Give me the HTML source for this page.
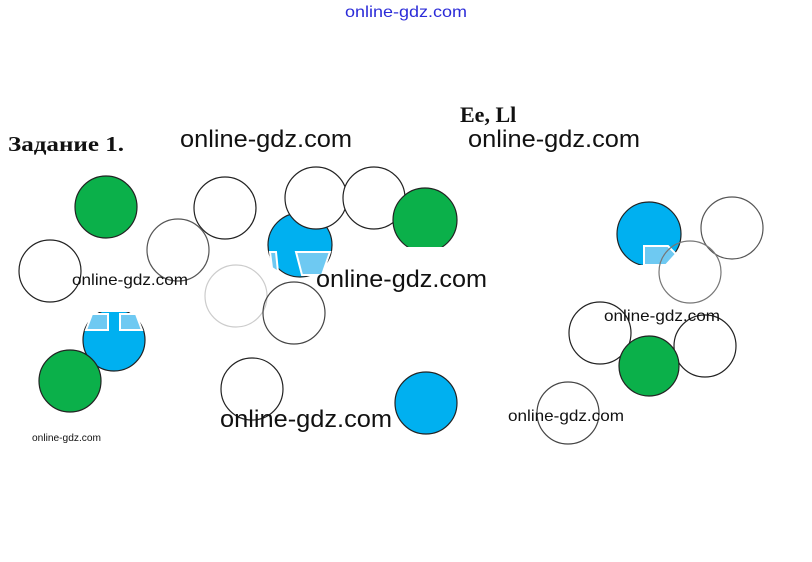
<!DOCTYPE html>
<html><head><meta charset="utf-8"><style>
html,body{margin:0;padding:0;background:#fff;}
svg{display:block}
.w{font-family:"Liberation Sans",sans-serif;fill:#111}
</style></head><body>
<svg width="812" height="562" viewBox="0 0 812 562" xmlns="http://www.w3.org/2000/svg">
<rect width="812" height="562" fill="#fff"/>
<text x="406" y="17" text-anchor="middle" font-family="Liberation Sans,sans-serif" font-size="16" fill="#2b2bd8" textLength="122" lengthAdjust="spacingAndGlyphs">online-gdz.com</text>
<text x="8" y="151" font-family="Liberation Serif,DejaVu Serif,serif" font-weight="bold" font-size="21" fill="#111" textLength="116" lengthAdjust="spacingAndGlyphs">Задание 1.</text>
<text x="460" y="122" font-family="Liberation Serif,serif" font-weight="bold" font-size="22" fill="#111">Ee, Ll</text>
<g stroke="#222" stroke-width="1.2">
<circle cx="106" cy="207" r="31" fill="#0bb04a"/>
<circle cx="225" cy="208" r="31" fill="none"/>
<circle cx="178" cy="250" r="31" fill="none" stroke="#555"/>
<circle cx="50" cy="271" r="31" fill="none"/>
<circle cx="300" cy="245" r="32" fill="#00b0f0"/>
<path d="M270 252 L276 252 L278 272 L272 268 Z" fill="#6ec9f2" stroke="#fff" stroke-width="2"/>
<path d="M296 252 L330 252 L322 275 L302 275 Z" fill="#6ec9f2" stroke="#fff" stroke-width="2"/>
<circle cx="316" cy="198" r="31" fill="#fff"/>
<circle cx="374" cy="198" r="31" fill="#fff"/>
<circle cx="425" cy="220" r="32" fill="#0bb04a"/>
<rect x="392" y="247" width="70" height="12" fill="#fff" stroke="none"/>
<circle cx="236" cy="296" r="31" fill="none" stroke="#ccc"/>
<circle cx="294" cy="313" r="31" fill="none" stroke="#444"/>
<circle cx="114" cy="340" r="31" fill="#00b0f0"/>
<rect x="80" y="300" width="70" height="12" fill="#fff" stroke="none"/>
<path d="M86 330 L108 330 L108 314 L92 314 Z M120 314 L120 330 L142 330 L136 314 Z" fill="#6ec9f2" stroke="#fff" stroke-width="2"/>
<circle cx="70" cy="381" r="31" fill="#0bb04a"/>
<circle cx="252" cy="389" r="31" fill="none"/>
<circle cx="426" cy="403" r="31" fill="#00b0f0"/>
<circle cx="649" cy="234" r="32" fill="#00b0f0"/>
<rect x="615" y="265" width="70" height="8" fill="#fff" stroke="none"/>
<path d="M644 246 L668 246 L676 254 L666 265 L644 265 Z" fill="#6ec9f2" stroke="#fff" stroke-width="2"/>
<circle cx="732" cy="228" r="31" fill="none" stroke="#555"/>
<circle cx="690" cy="272" r="31" fill="none" stroke="#777"/>
<circle cx="600" cy="333" r="31" fill="none"/>
<circle cx="705" cy="346" r="31" fill="#fff"/>
<circle cx="649" cy="366" r="30" fill="#0bb04a"/>
<circle cx="568" cy="413" r="31" fill="none" stroke="#444"/>
</g>
<text class="w" x="180" y="147" font-size="24" textLength="172" lengthAdjust="spacingAndGlyphs">online-gdz.com</text>
<text class="w" x="468" y="147" font-size="24" textLength="172" lengthAdjust="spacingAndGlyphs">online-gdz.com</text>
<text class="w" x="72" y="285" font-size="16" textLength="116" lengthAdjust="spacingAndGlyphs">online-gdz.com</text>
<text class="w" x="316" y="287" font-size="24" textLength="171" lengthAdjust="spacingAndGlyphs">online-gdz.com</text>
<text class="w" x="604" y="321" font-size="16" textLength="116" lengthAdjust="spacingAndGlyphs">online-gdz.com</text>
<text class="w" x="220" y="427" font-size="24" textLength="172" lengthAdjust="spacingAndGlyphs">online-gdz.com</text>
<text class="w" x="508" y="421" font-size="16" textLength="116" lengthAdjust="spacingAndGlyphs">online-gdz.com</text>
<text class="w" x="32" y="441" font-size="10" textLength="69" lengthAdjust="spacingAndGlyphs">online-gdz.com</text>
</svg>
</body></html>
